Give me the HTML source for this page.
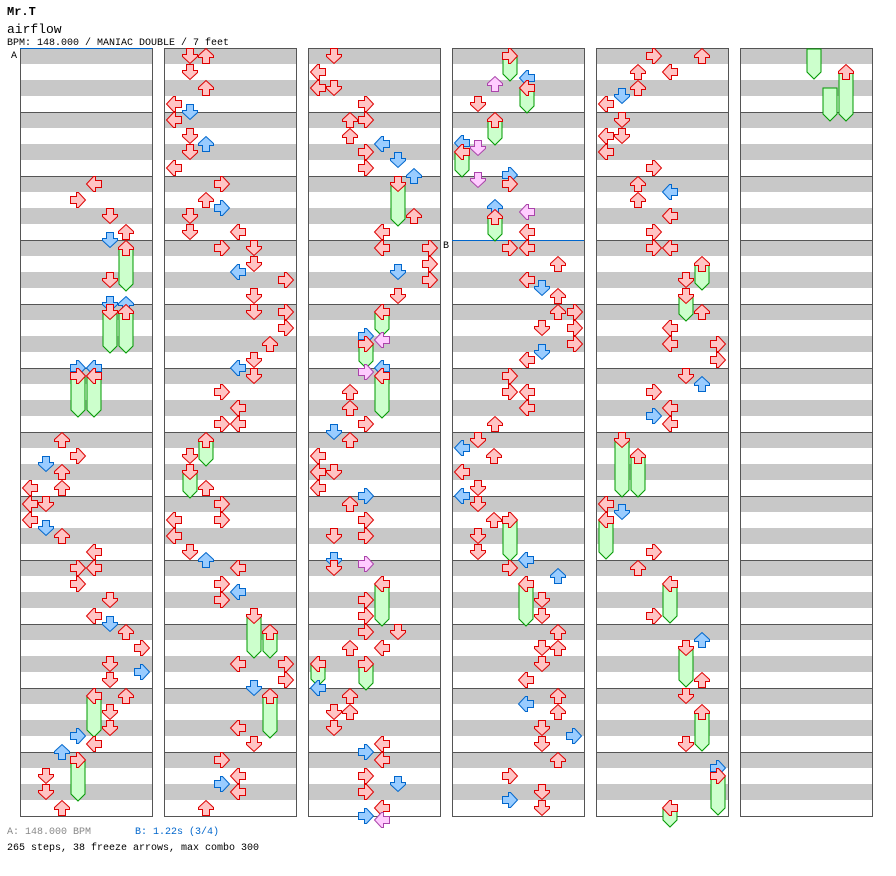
<!DOCTYPE html>
<html><head><meta charset="utf-8"><style>
body{margin:0;background:#fff;width:896px;height:876px;overflow:hidden}
svg{position:absolute;left:0;top:0}
</style></head><body>
<svg id="s" width="896" height="876" xmlns="http://www.w3.org/2000/svg" font-family="Liberation Mono, monospace">
<text x="7" y="15" font-size="12" font-weight="bold">Mr.T</text>
<text x="7" y="33" font-size="13">airflow</text>
<text x="7" y="45" font-size="10">BPM: 148.000 / MANIAC DOUBLE / 7 feet</text>
<text x="7" y="834" font-size="10" fill="#888">A: 148.000 BPM</text>
<text x="135" y="834" font-size="10" fill="#0066cc">B: 1.22s (3/4)</text>
<text x="7" y="850" font-size="10">265 steps, 38 freeze arrows, max combo 300</text>
<g id="g"></g>
</svg>
<script>
var g=document.getElementById('g'),h='';
var lefts=[20,164,308,452,596,740];
for(var c=0;c<6;c++){var L=lefts[c];
 h+='<rect x="'+L+'" y="48" width="132" height="768" fill="#fff"/>';
 for(var b=0;b<48;b+=2)h+='<rect x="'+(L+1)+'" y="'+(48+b*16)+'" width="131" height="16" fill="#c8c8c8"/>';
 for(var m=1;m<12;m++)h+='<line x1="'+L+'" x2="'+(L+132)+'" y1="'+(48+m*64+.5)+'" y2="'+(48+m*64+.5)+'" stroke="#555"/>';
 h+='<rect x="'+(L+.5)+'" y="48.5" width="132" height="768" fill="none" stroke="#555"/>';
}
h+='<line x1="20" x2="152" y1="48.5" y2="48.5" stroke="#0066cc"/><text x="11" y="58" font-size="10">A</text>';
h+='<line x1="452" x2="584" y1="240.5" y2="240.5" stroke="#0066cc"/><text x="443" y="248" font-size="10">B</text>';
var F=[[126,248,288],[110,312,350],[126,312,350],[78,376,414],[94,376,414],[94,696,734],[78,760,798],
[206,440,463],[190,472,495],[254,616,655],[270,632,655],[270,696,735],
[398,184,223],[382,312,333],[366,344,365],[382,376,415],[382,584,623],[318,664,683],[366,664,687],
[510,56,78],[527,88,110],[495,120,142],[462,152,174],[495,217,238],[510,520,558],[526,584,623],
[702,264,287],[686,296,318],[622,440,494],[638,456,494],[606,520,556],[670,584,620],[686,648,684],[702,712,748],[718,776,812],[670,808,824],
[814,49,76],[830,88,118],[846,72,118]];
var A=[
[94,184,'r'],[78,200,'r'],[110,216,'r'],[126,232,'r'],[110,240,'b'],[126,248,'r'],[110,280,'r'],[110,304,'b'],[126,304,'b'],[110,312,'r'],[126,312,'r'],[78,368,'b'],[94,368,'b'],[78,376,'r'],[94,376,'r'],
[62,440,'r'],[78,456,'r'],[46,464,'b'],[62,472,'r'],[30,488,'r'],[62,488,'r'],[30,504,'r'],[46,504,'r'],[30,520,'r'],[46,528,'b'],[62,536,'r'],[94,552,'r'],
[78,568,'r'],[94,568,'r'],[78,584,'r'],[110,600,'r'],[94,616,'r'],[110,624,'b'],[126,632,'r'],[142,648,'r'],[110,664,'r'],[142,672,'b'],[110,680,'r'],
[94,696,'r'],[126,696,'r'],[110,712,'r'],[110,728,'r'],[78,736,'b'],[94,744,'r'],[62,752,'b'],[78,760,'r'],[46,776,'r'],[46,792,'r'],[62,808,'r'],
[190,56,'r'],[206,56,'r'],[190,72,'r'],[206,88,'r'],[174,104,'r'],[190,112,'b'],[174,120,'r'],[190,136,'r'],[206,144,'b'],[190,152,'r'],[174,168,'r'],
[222,184,'r'],[206,200,'r'],[222,208,'b'],[190,216,'r'],[190,232,'r'],[238,232,'r'],[222,248,'r'],[254,248,'r'],[254,264,'r'],[238,272,'b'],[286,280,'r'],[254,296,'r'],
[254,312,'r'],[286,312,'r'],[286,328,'r'],[270,344,'r'],[254,360,'r'],[238,368,'b'],[254,376,'r'],[222,392,'r'],[238,408,'r'],[222,424,'r'],[238,424,'r'],
[206,440,'r'],[190,456,'r'],[190,472,'r'],[206,488,'r'],[222,504,'r'],[174,520,'r'],[222,520,'r'],[174,536,'r'],[190,552,'r'],[206,560,'b'],
[238,568,'r'],[222,584,'r'],[238,592,'b'],[222,600,'r'],[254,616,'r'],[270,632,'r'],[238,664,'r'],[286,664,'r'],[286,680,'r'],
[254,688,'b'],[270,696,'r'],[238,728,'r'],[254,744,'r'],[222,760,'r'],[238,776,'r'],[222,784,'b'],[238,792,'r'],[206,808,'r'],
[334,56,'r'],[318,72,'r'],[318,88,'r'],[334,88,'r'],[366,104,'r'],[350,120,'r'],[366,120,'r'],[350,136,'r'],[382,144,'b'],[366,152,'r'],[398,160,'b'],[366,168,'r'],[414,176,'b'],
[398,184,'r'],[414,216,'r'],[382,232,'r'],[382,248,'r'],[430,248,'r'],[430,264,'r'],[398,272,'b'],[430,280,'r'],[398,296,'r'],
[382,312,'r'],[366,336,'b'],[382,340,'p'],[366,344,'r'],[382,368,'b'],[366,372,'p'],[382,376,'r'],[350,392,'r'],[350,408,'r'],[366,424,'r'],
[334,432,'b'],[350,440,'r'],[318,456,'r'],[318,472,'r'],[334,472,'r'],[318,488,'r'],[366,496,'b'],[350,504,'r'],[366,520,'r'],[334,536,'r'],[366,536,'r'],[334,560,'b'],[366,564,'p'],[334,568,'r'],
[382,584,'r'],[366,600,'r'],[366,616,'r'],[366,632,'r'],[398,632,'r'],[350,648,'r'],[382,648,'r'],[318,664,'r'],[366,664,'r'],[318,688,'b'],
[350,696,'r'],[334,712,'r'],[350,712,'r'],[334,728,'r'],[382,744,'r'],[366,752,'b'],[382,760,'r'],[366,776,'r'],[398,784,'b'],[366,792,'r'],[382,808,'r'],[366,816,'b'],[382,820,'p'],
[510,56,'r'],[527,78,'b'],[495,84,'p'],[527,88,'r'],[478,104,'r'],[495,120,'r'],[462,143,'b'],[478,148,'p'],[462,152,'r'],[510,175,'b'],[478,180,'p'],[510,184,'r'],
[495,207,'b'],[527,212,'p'],[495,217,'r'],[527,232,'r'],[510,248,'r'],[527,248,'r'],[558,264,'r'],[527,280,'r'],[542,288,'b'],[558,296,'r'],
[558,312,'r'],[575,312,'r'],[542,328,'r'],[575,328,'r'],[575,344,'r'],[542,352,'b'],[527,360,'r'],[510,376,'r'],[510,392,'r'],[527,392,'r'],[527,408,'r'],[495,424,'r'],
[478,440,'r'],[462,448,'b'],[494,456,'r'],[462,472,'r'],[478,488,'r'],[462,496,'b'],[478,504,'r'],[494,520,'r'],[510,520,'r'],[478,536,'r'],[478,552,'r'],[526,560,'b'],[510,568,'r'],
[558,576,'b'],[526,584,'r'],[542,600,'r'],[542,616,'r'],[558,632,'r'],[542,648,'r'],[558,648,'r'],[542,664,'r'],[526,680,'r'],
[558,696,'r'],[526,704,'b'],[558,712,'r'],[542,728,'r'],[574,736,'b'],[542,744,'r'],[558,760,'r'],[510,776,'r'],[542,792,'r'],[510,800,'b'],[542,808,'r'],
[654,56,'r'],[702,56,'r'],[638,72,'r'],[670,72,'r'],[638,88,'r'],[622,96,'b'],[606,104,'r'],[622,120,'r'],[606,136,'r'],[622,136,'r'],[606,152,'r'],[654,168,'r'],
[638,184,'r'],[670,192,'b'],[638,200,'r'],[670,216,'r'],[654,232,'r'],[654,248,'r'],[670,248,'r'],[702,264,'r'],[686,280,'r'],[686,296,'r'],
[702,312,'r'],[670,328,'r'],[670,344,'r'],[718,344,'r'],[718,360,'r'],[686,376,'r'],[702,384,'b'],[654,392,'r'],[670,408,'r'],[654,416,'b'],[670,424,'r'],
[622,440,'r'],[638,456,'r'],[606,504,'r'],[622,512,'b'],[606,520,'r'],[654,552,'r'],[638,568,'r'],[670,584,'r'],
[654,616,'r'],[702,640,'b'],[686,648,'r'],[702,680,'r'],[686,696,'r'],[702,712,'r'],[686,744,'r'],[718,768,'b'],[718,776,'r'],[670,808,'r'],
[846,72,'r']];
var col={r:['#ffc4c4','#dd0000'],b:['#99ccff','#0066cc'],p:['#ffccff','#aa44aa']};
function lane(x){for(var c=5;c>=0;c--)if(x>=lefts[c])return Math.round((x-lefts[c]-10)/16)%4;return 0;}
var rot=[90,0,180,-90];
F.forEach(function(f){var x=f[0]-7,y1=f[1],y2=f[2];
 h+='<path d="M'+x+' '+y1+'V'+(y2-4)+'L'+(x+7)+' '+(y2+3)+'L'+(x+14)+' '+(y2-4)+'V'+y1+'Z" fill="#ccffcc" stroke="#009900"/>';});
A.forEach(function(a){var c=col[a[2]],r=rot[lane(a[0])];
 h+='<path transform="translate('+a[0]+' '+a[1]+') rotate('+r+')" d="M-3.5 -7.5H3.5V-1.5L7.5 -1.5L7.5 0.5L0 7.5L-7.5 0.5L-7.5 -1.5L-3.5 -1.5Z" fill="'+c[0]+'" stroke="'+c[1]+'"/>';});
g.innerHTML=h;
</script>
</body></html>
